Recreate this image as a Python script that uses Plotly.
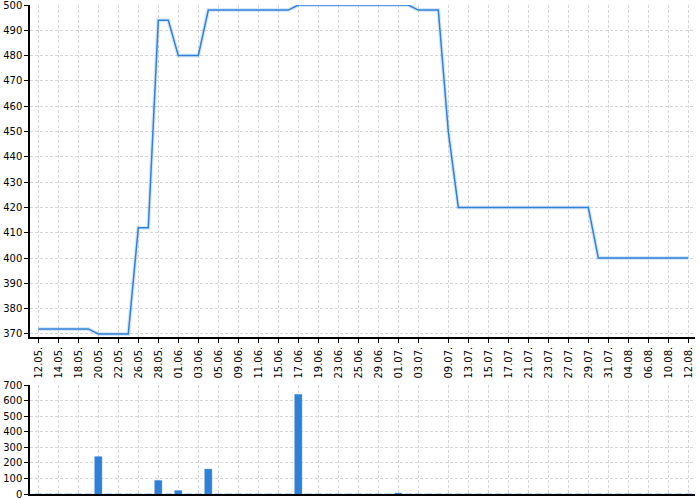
import plotly.graph_objects as go

dates = ["12.05.", "13.05.", "14.05.", "15.05.", "18.05.", "19.05.", "20.05.", "21.05.", "22.05.",
         "25.05.", "26.05.", "27.05.", "28.05.", "29.05.", "01.06.", "02.06.", "03.06.", "04.06.",
         "05.06.", "08.06.", "09.06.", "10.06.", "11.06.", "12.06.", "15.06.", "16.06.", "17.06.",
         "18.06.", "19.06.", "22.06.", "23.06.", "24.06.", "25.06.", "26.06.", "29.06.", "30.06.",
         "01.07.", "02.07.", "03.07.", "07.07.", "08.07.", "09.07.", "10.07.", "13.07.", "14.07.",
         "15.07.", "16.07.", "17.07.", "20.07.", "21.07.", "22.07.", "23.07.", "24.07.", "27.07.",
         "28.07.", "29.07.", "30.07.", "31.07.", "03.08.", "04.08.", "05.08.", "06.08.", "07.08.",
         "10.08.", "11.08.", "12.08."]

prices = [372, 372, 372, 372, 372, 372, 370, 370, 370, 370, 412, 412, 494, 494, 480, 480, 480,
          498, 498, 498, 498, 498, 498, 498, 498, 498, 500, 500, 500, 500, 500, 500, 500, 500,
          500, 500, 500, 500, 498, 498, 498, 450, 420, 420, 420, 420, 420, 420, 420, 420, 420,
          420, 420, 420, 420, 420, 400, 400, 400, 400, 400, 400, 400, 400, 400, 400]

volumes = [0, 0, 0, 0, 0, 0, 240, 0, 0, 0, 0, 0, 87, 0, 22, 0, 0, 160, 0, 0, 0, 0, 0, 0, 0, 0,
           640, 0, 0, 0, 0, 0, 0, 0, 0, 0, 6, 0, 0, 0, 0, 0, 0, 0, 0, 0, 0, 0, 0, 0, 0, 0, 0,
           0, 0, 0, 0, 0, 0, 0, 0, 0, 0, 0, 0, 0]

tick_labels = ["12.05.", "14.05.", "18.05.", "20.05.", "22.05.", "26.05.", "28.05.", "01.06.",
               "03.06.", "05.06.", "09.06.", "11.06.", "15.06.", "17.06.", "19.06.", "23.06.",
               "25.06.", "29.06.", "01.07.", "03.07.", "09.07.", "13.07.", "15.07.", "17.07.",
               "21.07.", "23.07.", "27.07.", "29.07.", "31.07.", "04.08.", "06.08.", "10.08.",
               "12.08."]

price_ticks = [370, 380, 390, 400, 410, 420, 430, 440, 450, 460, 470, 480, 490, 500]
volume_ticks = [0, 100, 200, 300, 400, 500, 600, 700]

BLUE = "#2f80d8"
GRID = "#d6d6d6"

fig = go.Figure()
fig.add_trace(go.Scatter(x=dates, y=prices, mode="lines", xaxis="x", yaxis="y",
                         line=dict(color="rgba(47,128,216,0.18)", width=4), hoverinfo="skip",
                         showlegend=False))
fig.add_trace(go.Scatter(x=dates, y=prices, mode="lines", xaxis="x", yaxis="y",
                         line=dict(color=BLUE, width=1.5), showlegend=False))
fig.add_trace(go.Bar(x=dates, y=volumes, xaxis="x2", yaxis="y2",
                     marker=dict(color=BLUE, line=dict(color="rgba(47,128,216,0.35)", width=1)),
                     width=0.72, showlegend=False))

xcommon = dict(type="category", categoryorder="array", categoryarray=dates,
               range=[-0.83, 65.67], tickvals=tick_labels, ticktext=tick_labels,
               showgrid=True, gridcolor=GRID, griddash="3px,2px", gridwidth=1,
               showline=True, linecolor="black", linewidth=1.5, zeroline=False,
               automargin=False, ticklabeloverflow="allow")

ycommon = dict(showgrid=True, gridcolor=GRID, griddash="3px,2px", gridwidth=1,
               showline=True, linecolor="black", linewidth=1.5, zeroline=False,
               ticks="outside", ticklen=4, tickcolor="black", automargin=False,
               ticklabeloverflow="allow")

fig.update_layout(
    width=700, height=500,
    margin=dict(l=30, r=5, t=5, b=6),
    paper_bgcolor="white", plot_bgcolor="white",
    font=dict(family="DejaVu Sans", size=10, color="black"),
    bargap=0.28,
    xaxis=dict(**xcommon, anchor="y", tickangle=-90, ticks="outside", ticklen=4,
               tickcolor="black", tickwidth=1),
    xaxis2=dict(**xcommon, anchor="y2", showticklabels=False, ticks=""),
    yaxis=dict(**ycommon, domain=[0.321, 1.0], range=[368.8, 500], tickvals=price_ticks,
               anchor="x"),
    yaxis2=dict(**ycommon, domain=[0.0, 0.2229], range=[0, 700], tickvals=volume_ticks,
                anchor="x2"),
)

fig.write_html("out.html", config={"displayModeBar": False},
               post_script="document.body.style.margin='0';document.body.style.overflow='hidden';")
